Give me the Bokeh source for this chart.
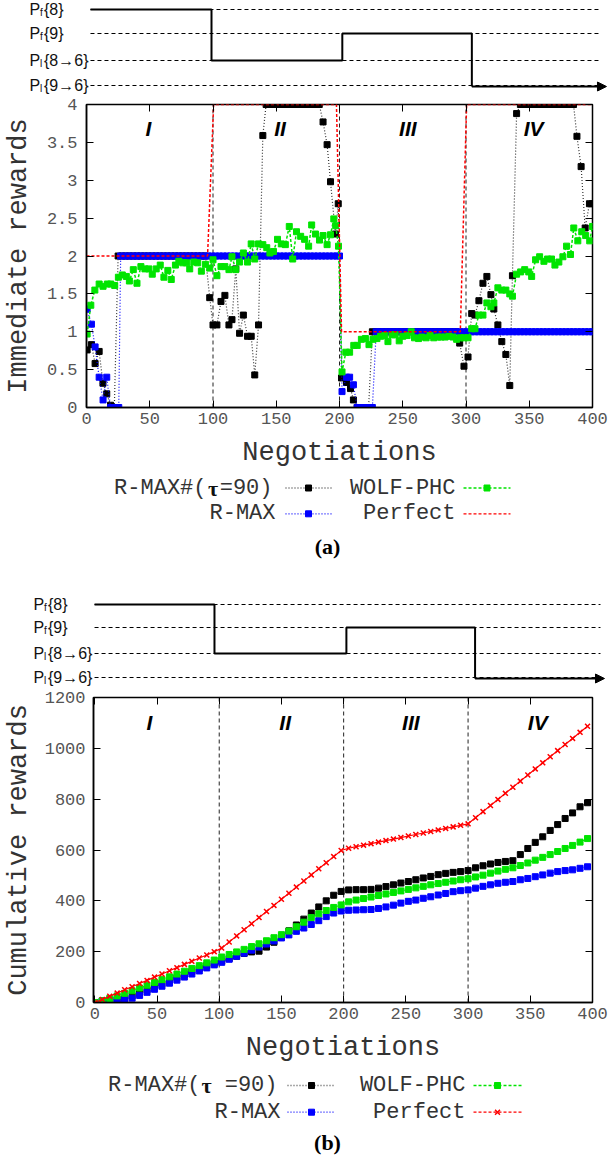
from bokeh.plotting import figure
from bokeh.models import Range1d, LinearAxis, FixedTicker, Arrow, NormalHead, CustomJSTickFormatter, NumeralTickFormatter
from bokeh.embed import file_html
from bokeh.resources import INLINE
from bokeh.core.properties import value

W = 613
MONO = "Liberation Mono"
SANS = "Liberation Sans"
SERIF = "Liberation Serif"
BLACK, BLUE, GREEN, RED = "#000000", "#0000ff", "#00e400", "#ff0000"

# ---------------- shared ----------------
X_TICKS = [0, 50, 100, 150, 200, 250, 300, 350, 400]
PHASE_BOUNDS = [100, 200, 300]
PHASE_NAMES = ["I", "II", "III", "IV"]
LEVEL_MAIN = ["P", "P", "P", "P"]
LEVEL_SUB = ["f", "f", "l", "l"]
LEVEL_REST = ["{8}", "{9}", "{8\u21926}", "{9\u21926}"]
STEP_SEQ = [0, 2, 1, 3]          # Pf{8} -> Pl{8->6} -> Pf{9} -> Pl{9->6}
STEP_EDGES_A = [4.7, 100, 203, 305, 411]
STEP_EDGES_B = [1.4, 97.4, 203, 306, 409.6]

# ---------------- panel (a): immediate rewards ----------------
A_Y_TICKS = [0, 0.5, 1, 1.5, 2, 2.5, 3, 3.5, 4]
A_PHASE_X = [49, 153, 254, 353.5]
A_PHASE_Y = [3.68, 3.68, 3.68, 3.68]

PERF_A_X = [0, 95.7, 100.5, 197.6, 201.6, 295.5, 300.5, 400]
PERF_A_Y = [2, 2, 4, 4, 1, 1, 4, 4]

RMAXS_A_X = ([0.5, 3.9, 6.8, 10, 13, 16, 19, 22, 25] + list(range(28, 95, 3))
             + [97.4, 100, 103.1, 106.3, 109.4, 112.6, 115, 118, 121, 124, 127.3, 130.2, 133, 136, 139.4]
             + list(range(142, 185, 3))
             + [187, 190.2, 192.9, 196.8, 199, 201.6, 205.5, 208.7, 211]
             + list(range(214, 224, 3)) + list(range(226, 293, 3))
             + [295, 298.4, 301.6, 304.5, 307.1, 310.2, 313.4, 316.5, 319.7, 322, 325.2, 328.3, 331.5, 334.6, 336.7, 340]
             + list(range(343, 386, 3))
             + [387.7, 391, 394.2, 397.6, 400])
RMAXS_A_Y = ([0.76, 0.83, 0.58, 0.74, 0.32, 0.18, 0.03, 0.0, 2.0] + [2.0] * 23
             + [1.45, 1.09, 1.09, 1.40, 1.48, 1.09, 1.16, 1.83, 0.98, 1.22, 0.94, 0.94, 0.43, 1.09, 3.59]
             + [4.0] * 15
             + [3.77, 3.47, 2.98, 2.29, 2.69, 0.39, 0.33, 0.25, 0.10]
             + [0.0] * 4 + [1.0] * 23
             + [0.85, 0.545, 0.667, 1.24, 1.22, 1.41, 1.64, 1.73, 1.49, 1.30, 1.09, 0.87, 0.70, 0.29, 1.74, 3.88]
             + [4.0] * 15
             + [3.58, 3.18, 2.37, 2.69, 2.69])

RMAX_A_X = ([0.5, 3.9, 6.8, 10, 13.1, 16, 19, 22, 25.5] + list(range(27, 199, 3)) + [200]
            + [202, 205.5, 208, 211] + list(range(214, 228, 3)) + list(range(229, 401, 3)))
RMAX_A_Y = ([1.30, 1.10, 0.80, 0.40, 0.10, 0.40, 0.0, 0.0, 0.0] + [2.0] * 58 + [2.0]
            + [0.21, 0.40, 0.40, 0.30] + [0.0] * 5 + [1.0] * 58)

WOLF_A_X = [0.5, 3.4, 6.6, 10, 13.1, 16.5, 19.2, 22.3, 25.2, 28.3, 31.5, 33.9, 37, 39.9, 43, 46.2, 49.3,
            52, 55.1, 58.3, 61.2, 64.3, 67, 70.3, 73, 76.1, 79, 81.6, 84.8, 87.9, 90.8, 94, 97.4,
            100, 103.1, 106.3, 109.4, 112.6, 115, 118, 121, 124, 127.3, 130.2, 133, 136, 139.4, 142.5,
            145, 147.8, 151, 154, 157.2, 160.3, 163, 166, 169.3, 172.4, 175.6, 178, 181, 184.2, 187,
            190.2, 192.9, 195.5, 197, 199.2,
            202, 205, 208, 211.3, 214, 217.3, 220.5, 223.3, 226.5, 229.6, 232.5, 235.7, 238.3, 241.5,
            244, 247.2, 250, 253.5, 256.7, 259.3, 262.5, 265, 268.5, 271.6, 274.5, 277.7, 280.3, 283.5,
            286.6, 289.8, 292.6, 295.5, 298.4,
            301.6, 304.5, 307.1, 310.2, 313.4, 316.5, 319.7, 322, 325.2, 328.3, 331.5, 334.6, 336.7,
            340, 343.2, 346.4, 349.6, 351.9, 355, 358.2, 361.6, 364.5, 367.6, 370.3, 373.4, 376.6,
            379.5, 382.6, 385.2, 388.4, 391.5, 394.6, 397.8, 400]
WOLF_A_Y = [0.97, 1.35, 1.55, 1.63, 1.60, 1.63, 1.63, 1.61, 1.72, 1.75, 1.73, 1.67, 1.82, 1.64, 1.86, 1.83, 1.83,
            1.76, 1.83, 1.88, 1.72, 1.81, 1.69, 1.88, 1.93, 1.91, 1.91, 1.83, 1.92, 1.91, 1.80, 1.89, 1.84,
            1.95, 1.74, 1.86, 1.86, 1.82, 1.99, 1.82, 1.92, 2.04, 1.92, 2.16, 1.96, 2.16, 2.15, 2.11,
            2.04, 2.06, 2.22, 2.16, 2.15, 2.39, 1.96, 2.32, 2.26, 2.22, 2.13, 2.41, 2.29, 2.21, 2.27,
            2.15, 2.28, 2.49, 2.40, 2.13,
            0.47, 0.73, 0.73, 0.82, 0.82, 0.90, 0.91, 0.83, 0.90, 0.91, 0.94, 0.95, 0.87, 0.96,
            0.96, 0.88, 0.94, 0.95, 1.00, 0.92, 0.91, 0.93, 0.92, 0.95, 0.92, 0.93, 0.93, 0.93,
            0.94, 0.93, 0.90, 0.92, 0.92,
            0.92, 1.04, 1.04, 1.22, 1.22, 1.38, 1.33, 1.38, 1.58, 1.55, 1.55, 1.50, 1.47,
            1.76, 1.79, 1.82, 1.79, 1.73, 1.95, 1.99, 1.93, 1.96, 1.96, 1.88, 1.92, 1.99,
            2.13, 2.02, 2.37, 2.20, 2.32, 2.27, 2.20, 2.39]

# ---------------- panel (b): cumulative rewards ----------------
B_Y_TICKS = [0, 200, 400, 600, 800, 1000, 1200]
B_PHASE_X = [44, 153, 254, 356]
B_PHASE_Y = [1103, 1103, 1103, 1103]
CUM_X = list(range(0, 397, 6))
PERF_B = [0, 12, 25, 37, 50, 62, 75, 87, 100, 112, 125, 137, 150, 162, 175, 187, 200,
          214, 238, 262, 286, 310, 334, 358, 382, 406, 430, 454, 478, 502, 526, 550, 574, 598,
          607, 613, 619, 625, 631, 637, 643, 649, 655, 661, 667, 673, 679, 685, 691, 697, 703,
          727, 751, 775, 799, 823, 847, 871, 895, 919, 943, 967, 991, 1015, 1039, 1063, 1087]
RMAXS_B = [0, 5, 9, 12, 15, 26, 38, 50, 62, 74, 86, 98, 110, 122, 134, 146, 154,
           163, 173, 182, 193, 199, 202, 218, 237, 258, 282, 305, 328, 352, 376, 400, 422, 437,
           443, 444, 444, 445, 450, 456, 463, 470, 476, 483, 490, 496, 503, 508, 512, 515, 519,
           530, 538, 545, 551, 555, 558, 582, 606, 630, 652, 677, 700, 724, 746, 770, 786]
RMAX_B = [0, 6, 9, 11, 12, 17, 28, 40, 52, 64, 76, 88, 100, 112, 124, 136, 148,
          158, 170, 182, 194, 206, 218, 230, 242, 254, 266, 280, 293, 307, 322, 338, 352, 360,
          363, 364, 365, 366, 370, 376, 383, 391, 398, 403, 410, 416, 423, 429, 436, 440, 443,
          450, 457, 463, 469, 473, 476, 483, 488, 495, 502, 509, 515, 519, 522, 528, 534]
WOLF_B = [0, 7, 16, 26, 36, 46, 57, 68, 79, 90, 101, 112, 123, 134, 145, 156, 167,
          179, 189, 199, 209, 220, 231, 243, 255, 267, 281, 298, 316, 334, 349, 362, 374, 384,
          396, 403, 409, 415, 421, 427, 433, 439, 445, 451, 457, 463, 468, 473, 478, 483, 487,
          494, 501, 509, 517, 524, 530, 539, 549, 560, 571, 582, 594, 606, 618, 631, 645]

for a, b in [(RMAXS_A_X, RMAXS_A_Y), (RMAX_A_X, RMAX_A_Y), (WOLF_A_X, WOLF_A_Y), (PERF_A_X, PERF_A_Y)]:
    assert len(a) == len(b), (len(a), len(b))
for s in (PERF_B, RMAXS_B, RMAX_B, WOLF_B):
    assert len(s) == len(CUM_X), len(s)


# ---------------- builders ----------------
def bare_fig(height, xr, yr):
    p = figure(width=W, height=height, x_range=Range1d(*xr), y_range=Range1d(*yr),
               x_axis_location=None, y_axis_location=None, output_backend="svg",
               toolbar_location=None, min_border=0)
    p.outline_line_color = None
    p.grid.visible = False
    return p


def step_fig(height, xr, level_y, edges, dash_x, label_x):
    p = bare_fig(height, xr, (height, 0))
    p.segment(x0=[dash_x[0]] * 4, y0=level_y, x1=[dash_x[1]] * 4, y1=level_y,
              line_color="black", line_width=1, line_dash="4 3")
    xs, ys = [], []
    for i, lv in enumerate(STEP_SEQ[:-1]):
        xs += [edges[i], edges[i + 1]]
        ys += [level_y[lv], level_y[lv]]
    xs.append(edges[-2])
    ys.append(level_y[STEP_SEQ[-1]] + 1)
    p.line(xs, ys, line_color="black", line_width=2)
    last = level_y[STEP_SEQ[-1]] + 1
    p.add_layout(Arrow(end=NormalHead(size=9, fill_color="black", line_color="black"),
                       x_start=edges[-2], y_start=last, x_end=edges[-1], y_end=last,
                       line_color="black", line_width=2))
    p.text(x=[label_x] * 4, y=level_y, text=LEVEL_MAIN, text_font=value(SANS),
           text_font_size="16px", text_baseline="middle", text_color="#111111")
    p.text(x=[label_x] * 4, y=level_y, text=LEVEL_SUB, text_font=value(SANS), x_offset=10.5,
           y_offset=3, text_font_size="10px", text_baseline="middle", text_color="#111111")
    p.text(x=[label_x] * 4, y=level_y, text=LEVEL_REST, text_font=value(SANS), x_offset=14.5,
           text_font_size="16px", text_baseline="middle", text_color="#111111")
    return p


def main_fig(height, top, left, right, bottom, xr, yr, yticks, ylabel, fmt, ylab_std, tick_std):
    p = figure(width=W, height=height, x_range=Range1d(*xr), y_range=Range1d(*yr),
               output_backend="svg", toolbar_location=None,
               min_border_top=top, min_border_left=left, min_border_right=right,
               min_border_bottom=bottom)
    p.grid.visible = False
    p.outline_line_color = "black"
    p.outline_line_width = 1.5
    xa, ya = p.xaxis[0], p.yaxis[0]
    xa.ticker = FixedTicker(ticks=X_TICKS)
    ya.ticker = FixedTicker(ticks=yticks)
    if fmt:
        ya.formatter = fmt
    for ax in (xa, ya):
        ax.major_tick_in = 7
        ax.major_tick_out = 0
        ax.minor_tick_line_color = None
        ax.axis_line_color = "black"
        ax.axis_line_width = 1.5
        ax.major_label_text_font = MONO
        ax.major_label_text_font_size = "17px"
        ax.major_label_text_color = "#555555"
        ax.axis_label_text_font = MONO
        ax.axis_label_text_font_size = "27px"
        ax.axis_label_text_font_style = "normal"
        ax.axis_label_text_color = "#333333"
    xa.axis_label = "Negotiations"
    ya.axis_label = ylabel
    xa.major_label_standoff = 5
    xa.axis_label_standoff = 11
    ya.major_label_standoff = tick_std
    ya.axis_label_standoff = ylab_std
    blank = CustomJSTickFormatter(code="return ''")
    for tk, side in ((yticks, "right"), (X_TICKS, "above")):
        m = LinearAxis(ticker=FixedTicker(ticks=tk), formatter=blank, major_tick_in=7,
                       major_tick_out=0, minor_tick_line_color=None, axis_line_color=None,
                       major_label_standoff=0, major_label_text_font_size="1px")
        p.add_layout(m, side)
    p.segment(x0=PHASE_BOUNDS, y0=[yr[0]] * 3, x1=PHASE_BOUNDS, y1=[yr[1]] * 3,
              line_color="#222222", line_width=1, line_dash="4 3")
    return p


def add_series(p, x, y, color, dash, lcolor=None, marker="square", msize=6, lw=1.5):
    p.line(x, y, line_color=lcolor or color, line_width=lw, line_dash=dash)
    if marker:
        p.scatter(x, y, marker=marker, size=msize, fill_color=color, line_color=color,
                  line_width=1.5 if marker == "x" else 1)


def legend_fig(height, rows, col, caption, cap_y, cap_x, tau_b):
    p = bare_fig(height, (0, W), (height, 0))
    fnt = dict(text_font=value(MONO), text_font_size="22px", text_baseline="middle",
               text_color="#333333")
    p.text(x=[col["tau_pre"]], y=[rows[0]], text=["R-MAX#("], text_align="right", **fnt)
    p.text(x=[col["tau"]], y=[rows[0]], text=["\u03c4"], text_align="center",
           text_font_style="bold", text_font=value(SERIF), text_font_size="22px",
           text_baseline="middle", text_color="#111111")
    p.text(x=[col["t1"]], y=[rows[0]], text=[tau_b], text_align="right", **fnt)
    p.text(x=[col["t2"]], y=[rows[0]], text=["WOLF-PHC"], text_align="right", **fnt)
    p.text(x=[col["t1b"]], y=[rows[1]], text=["R-MAX"], text_align="right", **fnt)
    p.text(x=[col["t2"]], y=[rows[1]], text=["Perfect"], text_align="right", **fnt)
    s1, s2 = col["s1"], col["s2"]
    specs = [
        (s1, rows[0], "#555555", BLACK, "1 2", "square"),
        (s2, rows[0], GREEN, GREEN, "3 2", "square"),
        (s1, rows[1], BLUE, BLUE, "1 2", "square"),
        (s2, rows[1], RED, RED, "3 2", col["perf_marker"]),
    ]
    for (a, b), yy, lc, mc, dash, mk in specs:
        p.line([a, b], [yy, yy], line_color=lc, line_width=1.3, line_dash=dash)
        if mk:
            p.scatter([(a + b) / 2], [yy], marker=mk, size=7 if mk == "x" else 6,
                      fill_color=mc, line_color=mc, line_width=1.5 if mk == "x" else 1)
    p.text(x=[cap_x], y=[cap_y], text=[caption], text_align="center", text_baseline="middle",
           text_font=value(SERIF), text_font_style="bold", text_font_size="22px",
           text_color="black")
    return p


# ---------------- panel (a) ----------------
A_SCALE = 508 / 400
step_a = step_fig(94, (-84 / A_SCALE, (W - 84) / A_SCALE), [9, 33, 60, 85], STEP_EDGES_A,
                  (4.7, 404.7), -43.3)

pa = main_fig(381, 10, 84, W - 592, 68, (0, 400), (0, 4), A_Y_TICKS, "Immediate rewards",
              NumeralTickFormatter(format="0.[0]"), 10, 9)
add_series(pa, RMAXS_A_X, RMAXS_A_Y, BLACK, "1 2", lcolor="#333333", lw=1.2)
add_series(pa, RMAX_A_X, RMAX_A_Y, BLUE, "1 2", lw=1.2)
add_series(pa, WOLF_A_X, WOLF_A_Y, GREEN, "3 2", lw=1.5)
add_series(pa, PERF_A_X, PERF_A_Y, RED, "3 2", marker=None, lw=1.5)
pa.text(x=A_PHASE_X, y=A_PHASE_Y, text=PHASE_NAMES, text_align="center", text_baseline="middle",
        text_font=value(SANS), text_font_style="bold italic", text_font_size="21px",
        text_color="black")

leg_a = legend_fig(117, [12.5, 38.3],
                   dict(tau_pre=206, tau=212.5, t1=272, t1b=275, t2=455, s1=(285, 331),
                        s2=(463, 510), perf_marker=None),
                   "(a)", 71, 327, "=90)")

# ---------------- panel (b) ----------------
B_SCALE = 499.7 / 400
step_b = step_fig(95, (-92.3 / B_SCALE, (W - 92.3) / B_SCALE), [12, 35, 61, 85], STEP_EDGES_B,
                  (1.4, 406.4), -47.5)

pb = main_fig(383, 10, 91, W - 592, 68, (-1.04, 400), (0, 1200), B_Y_TICKS, "Cumulative rewards",
              None, 8, 8)
add_series(pb, CUM_X, RMAXS_B, BLACK, "1 2", lcolor="#555555", lw=1.0)
add_series(pb, CUM_X, RMAX_B, BLUE, "1 2", lw=1.0)
add_series(pb, CUM_X, WOLF_B, GREEN, "3 2", lw=1.0)
add_series(pb, CUM_X, PERF_B, RED, "solid", marker="x", msize=7, lw=1.2)
pb.text(x=B_PHASE_X, y=B_PHASE_Y, text=PHASE_NAMES, text_align="center", text_baseline="middle",
        text_font=value(SANS), text_font_style="bold italic", text_font_size="21px",
        text_color="black")

leg_b = legend_fig(86, [15, 41.7],
                   dict(tau_pre=200, tau=206, t1=277, t1b=280, t2=465, s1=(287, 335),
                        s2=(473, 521), perf_marker="x"),
                   "(b)", 72, 327, "=90)")

roots = [step_a, pa, leg_a, step_b, pb, leg_b]
open("out.html", "w").write(file_html(roots, INLINE))
